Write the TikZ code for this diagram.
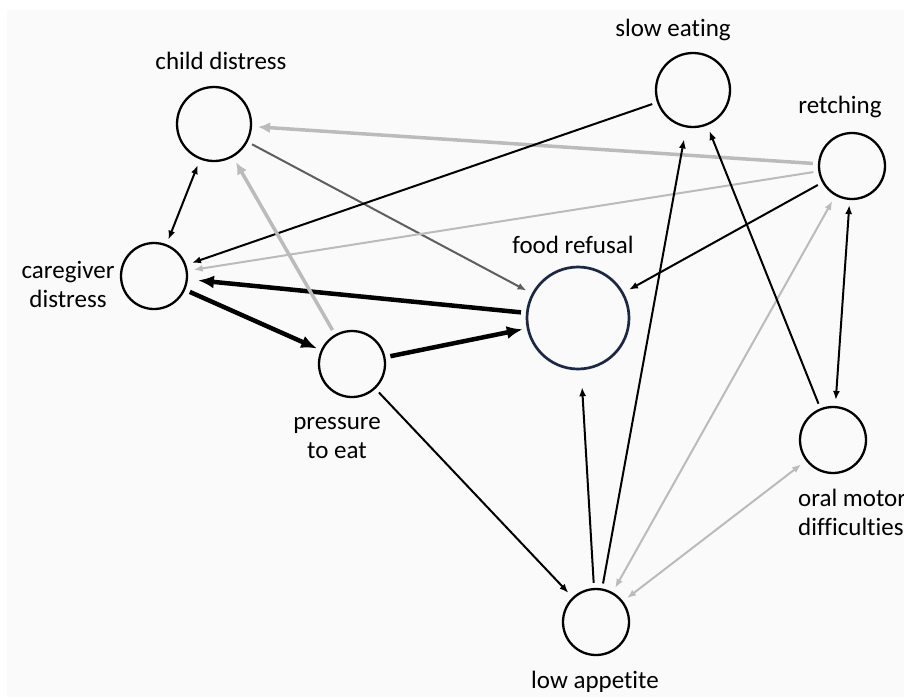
\documentclass[tikz,border=0pt]{standalone}
\usepackage{fontspec}
\setmainfont{Carlito}[Ligatures=NoCommon]
\usetikzlibrary{arrows.meta}

\definecolor{bggray}{HTML}{FAFAFA}
\definecolor{lightarc}{HTML}{BBBBBB}
\definecolor{midarc}{HTML}{5E5E5E}
\definecolor{navyring}{HTML}{1C2841}

\begin{document}
\begin{tikzpicture}[x=1pt,y=-1pt,
        var/.style={circle, draw, line width=2.3pt, minimum size=66pt, inner sep=0pt},
        lbl/.style={font=\fontsize{25}{29}\selectfont, inner sep=0pt},
        arcblack/.style={line width=2pt, black, shorten >=6pt, shorten <=5pt, >={Latex[length=9pt,width=7pt]}},
        arcgrey/.style={arcblack, midarc},
        arclight/.style={arcblack, lightarc},
        arcwide/.style={arclight, line width=3.5pt, >={Latex[length=12pt,width=11pt]}},
        arcbold/.style={line width=4.5pt, black, shorten >=4pt, shorten <=5pt, >={Latex[length=16pt,width=13pt]}}]
        \useasboundingbox (0,0) rectangle (904,697);
        \fill[bggray] (7,10) rectangle (904,697);

        % variables
        \node[var, minimum size=74pt] (child) at (214,124) {};
        \node[var] (care) at (154,276) {};
        \node[var] (press) at (352,364) {};
        \node[var, minimum size=102pt, draw=navyring, line width=2.7pt] (food) at (578,318) {};
        \node[var, minimum size=74pt] (slow) at (693,90) {};
        \node[var] (retch) at (852,166) {};
        \node[var] (oral) at (833,440) {};
        \node[var] (low) at (596,622) {};

        % labels (base = last line)
        \node[lbl, anchor=base] (childlbl) at (221,69) {child distress};
        \node[lbl, anchor=base, align=center] (carelbl) at (68,307) {caregiver\\distress};
        \node[lbl, anchor=base, align=center] (presslbl) at (337,458) {pressure\\to eat};
        \node[lbl, anchor=base] (foodlbl) at (573,253) {food refusal};
        \node[lbl, anchor=base] (slowlbl) at (673,36) {slow eating};
        \node[lbl, anchor=base] (retchlbl) at (840,113) {retching};
        \node[lbl, anchor=base west, align=left] (orallbl) at (798,535) {oral motor\\difficulties};
        \node[lbl, anchor=base] (lowlbl) at (595,688) {low appetite};

        % arcs
        \draw[arcblack, <->] (care) -- (child);
        \draw[arcwide, ->] (retch) -- (child);
        \draw[arcgrey, ->] (child) -- (food);
        \draw[arcblack, ->] (slow) -- (care);
        \draw[arclight, ->] (retch) -- (care);
        \draw[arcbold, ->, shorten >=10pt] (food) -- (care);
        \draw[arcbold, ->] (care) -- (press);
        \draw[arcwide, ->] (press) -- (child);
        \draw[arcbold, ->] (press) -- (food);
        \draw[arcblack, ->] (press) -- (low);
        \draw[arcblack, ->, shorten >=17pt] (low) -- (food);
        \draw[arcblack, ->, shorten >=12pt] (low) -- (slow);
        \draw[arclight, <->] (low) -- (retch);
        \draw[arclight, <->] (low) -- (oral);
        \draw[arcblack, ->] (oral) -- (slow);
        \draw[arcblack, <->] (retch) -- (oral);
        \draw[arcblack, ->] (retch) -- (food);
\end{tikzpicture}
\end{document}
